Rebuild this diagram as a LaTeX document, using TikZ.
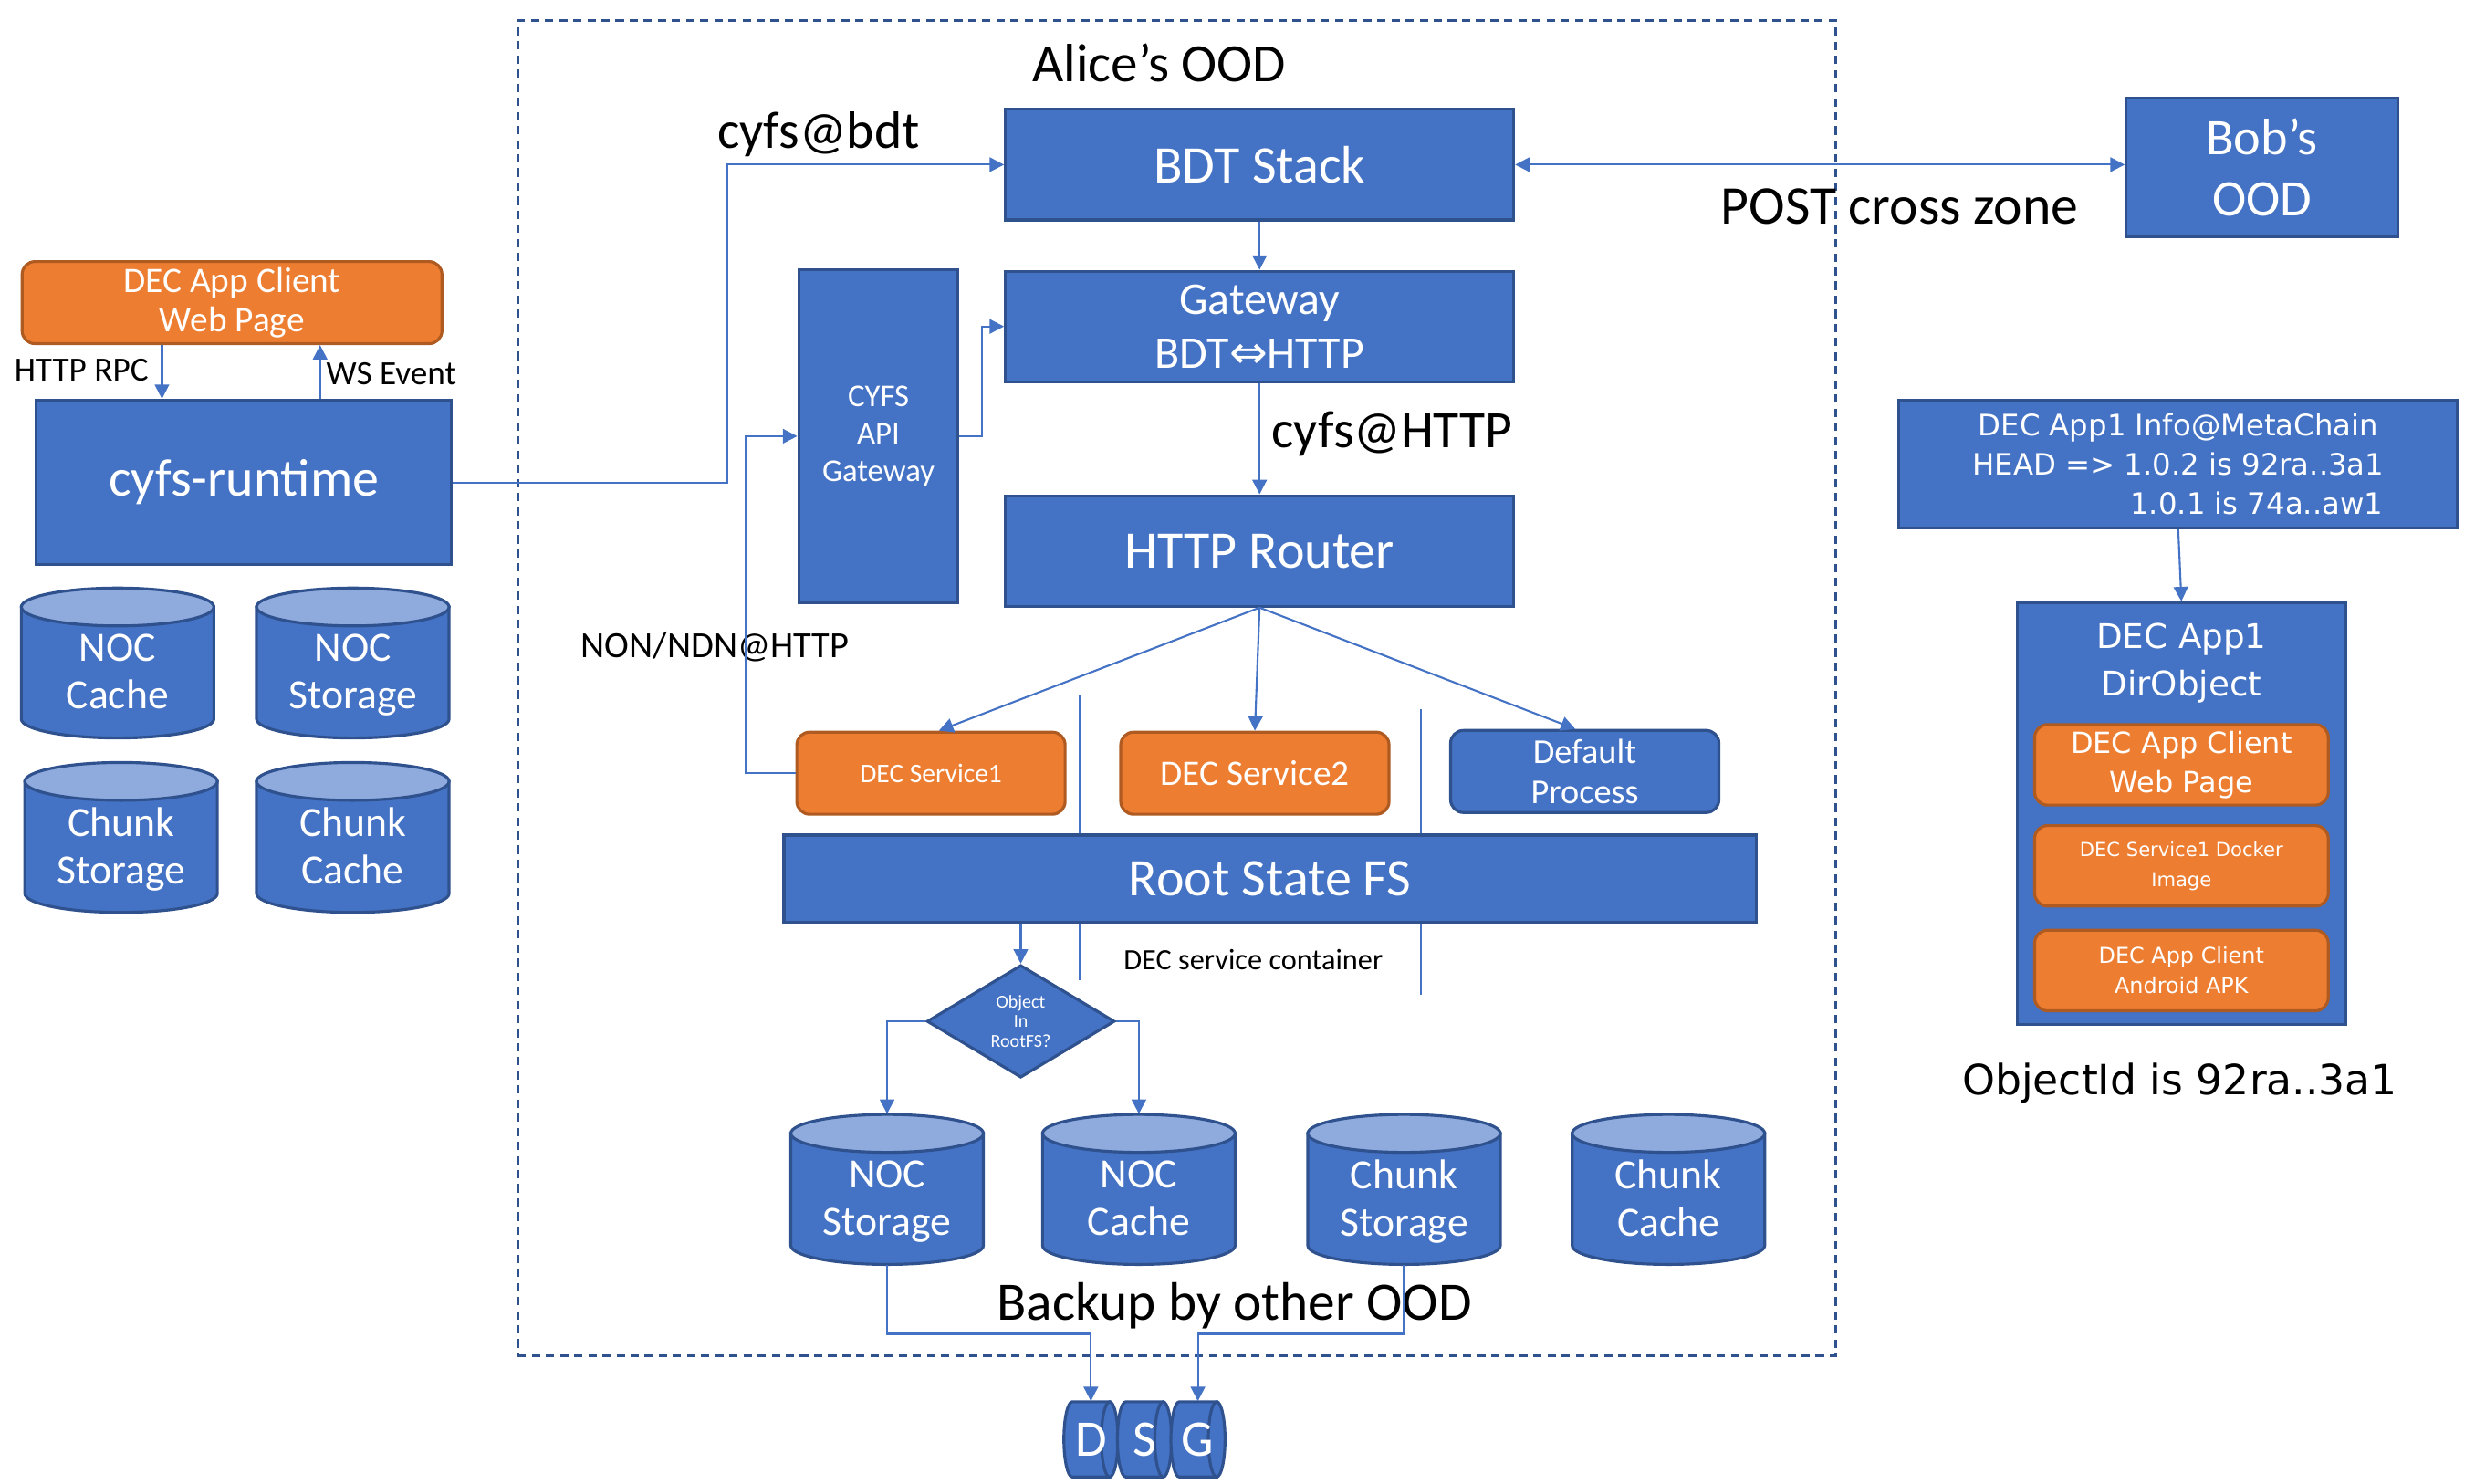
\documentclass[tikz,border=0pt]{standalone}
\usepackage{fontspec}
\setmainfont{Carlito}
\newfontfamily\rfont{DejaVu Sans}
\usetikzlibrary{shapes.geometric,arrows.meta}
\definecolor{bfill}{HTML}{4472C4}
\definecolor{bdark}{HTML}{2F528F}
\definecolor{btop}{HTML}{8FAADC}
\definecolor{ofill}{HTML}{ED7D31}
\definecolor{odark}{HTML}{AE5A21}
\newdimen\px
\px=0.017296cm
\newcommand{\fs}[2]{\fontsize{#1}{#2}\selectfont}
\tikzset{
  box/.style={rectangle,draw=bdark,fill=bfill,text=white,line width=0.9pt,inner sep=0pt,align=center},
  obox/.style={box,draw=odark,fill=ofill,rounded corners=4pt},
  rbox/.style={box,rounded corners=4pt},
  skin/.style={draw=bdark,line width=0.9pt},
  dbframe/.style={rectangle,inner sep=0pt,minimum width=122\px,minimum height=95\px},
  dbtext/.style={text=white,align=center,inner sep=0pt,font=\fs{13}{14.8}},
  dsg/.style={rectangle,inner sep=0pt,text=white,minimum width=34\px,minimum height=47.6\px,font=\fs{16}{18}},
  tip/.tip={Triangle[width=4.5pt,length=4.5pt]},
  link/.style={draw=bfill,line width=0.6pt,-tip},
  lbl/.style={text=black,inner sep=0pt,align=center}
}
\begin{document}
\begin{tikzpicture}[x=0.017296cm,y=-0.017296cm]
\useasboundingbox (0,0) rectangle (1568,940);
\pgfmathsetmacro{\bw}{322}
\pgfmathsetmacro{\bh}{70}
\pgfmathsetmacro{\crx}{61}
\pgfmathsetmacro{\cry}{12}
\pgfmathsetmacro{\cbody}{35.5}
%ood frame
\node[draw=bdark,line width=0.9pt,dash pattern=on 2.6pt off 1.8pt,inner sep=0pt,
  minimum width=835\px,minimum height=846\px] (ood) at (745.5,436) {};
\node[lbl,font=\fs{16.8}{19}] (alice) at (734.5,40) {Alice’s OOD};
%container walls
\draw[bfill,line width=0.6pt] (684,440) -- (684,621);
\draw[bfill,line width=0.6pt] (900,449) -- (900,630);
%stack
\node[box,minimum width=\bw\px,minimum height=\bh\px,font=\fs{16.5}{19}] (bdt) at (798,104.3) {BDT Stack};
\node[box,minimum width=\bw\px,minimum height=\bh\px,font=\fs{14.2}{16.8}] (gw) at (798,206.8) {Gateway\\BDT{\rfont ⇔}HTTP};
\node[box,minimum width=\bw\px,minimum height=\bh\px,font=\fs{16.5}{19}] (router) at (798,349) {HTTP Router};
\node[box,minimum width=101\px,minimum height=211\px,font=\fs{9.9}{11.6}] (api) at (556.5,276.3) {CYFS\\API\\Gateway};
\node[obox,minimum width=170\px,minimum height=52\px,font=\fs{8.4}{10}] (svc1) at (589.8,489.8) {DEC Service1};
\node[obox,minimum width=170\px,minimum height=52\px,font=\fs{11.2}{13}] (svc2) at (795,489.8) {DEC Service2};
\node[rbox,minimum width=170\px,minimum height=52\px,font=\fs{10.9}{12.4}] (defp) at (1004,488.7) {Default\\Process};
\node[box,minimum width=616\px,minimum height=55\px,font=\fs{16.5}{19}] (root) at (804.6,556.5) {Root State FS};
\node[lbl,font=\fs{9.2}{11}] (cont) at (794,607.7) {DEC service container};
\node[box,diamond,minimum width=119\px,minimum height=70\px,font=\fs{5.7}{6.2}] (obj) at (646.7,647) {Object\\In\\RootFS?};
%storage
\foreach \n/\x/\y/\t in {nocs2/562/753.5/{NOC\\Storage},nocc2/721.5/753.5/{NOC\\Cache\vphantom{g}},
  chs2/889.5/753.5/{Chunk\\Storage},chc2/1057/753.5/{Chunk\\Cache\vphantom{g}},
  nocc1/74.5/420/{NOC\\Cache\vphantom{g}},nocs1/223.5/420/{NOC\\Storage},
  chs1/76.7/530.5/{Chunk\\Storage},chc1/223.5/530.5/{Chunk\\Cache\vphantom{g}}}{
  \filldraw[skin,fill=bfill] (\x-\crx,\y-\cbody) -- (\x-\crx,\y+\cbody)
    arc[start angle=180,end angle=0,x radius=\crx,y radius=\cry] -- (\x+\crx,\y-\cbody) -- cycle;
  \filldraw[skin,fill=btop] (\x,\y-\cbody) ellipse[x radius=\crx,y radius=\cry];
  \node[dbframe] (\n) at (\x,\y) {};
  \node[dbtext] (\n-t) at (\x,\y+7.5) {\t};
}
\node[lbl,font=\fs{16.9}{19}] (backup) at (782,827) {Backup by other OOD};
%dsg
\foreach \n/\lx/\t in {d/679.3/D,s/713.2/S,g/747.1/G}{
  \filldraw[skin,fill=bfill] (\lx,888) -- (\lx+23.7,888) -- (\lx+23.7,935.6) -- (\lx,935.6)
    arc[start angle=90,end angle=270,x radius=5.3,y radius=23.8] -- cycle;
  \filldraw[skin,fill=bfill] (\lx+23.7,911.8) ellipse[x radius=5.3,y radius=23.8];
  \node[dsg] (\n) at (\lx+11.8,911.8) {\t};
}
%runtime
\node[obox,minimum width=266\px,minimum height=52\px,font=\fs{11.2}{12.4}] (webl) at (147,191.7) {DEC App Client\\Web Page};
\node[box,minimum width=263\px,minimum height=104\px,font=\fs{16.5}{19}] (runtime) at (154.5,305.6) {cyfs-runtime};
\node[lbl,font=\fs{10.6}{12}] (rpc) at (51.6,234.5) {HTTP RPC};
\node[lbl,font=\fs{10.6}{12}] (ws) at (248,236.5) {WS Event};
%bob and app
\node[box,minimum width=172\px,minimum height=88\px,font=\fs{16}{18.8}] (bob) at (1433,106) {Bob’s\\OOD};
\node[lbl,font=\fs{17}{19}] (post) at (1203.5,131) {POST cross zone};
\node[box,minimum width=354\px,minimum height=81\px,font=\rfont\fs{9.2}{12.2}] (meta) at (1380,294)
  {DEC App1 Info@MetaChain\\HEAD => 1.0.2 is 92ra..3a1\\\hphantom{HEAD => }\,1.0.1 is 74a..aw1};
\node[box,minimum width=208\px,minimum height=267\px] (dir) at (1382,515.3) {};
\node[lbl,text=white,font=\rfont\fs{10.6}{14.8}] (dirt) at (1382,420) {DEC App1\\DirObject};
\node[obox,minimum width=186\px,minimum height=51\px,font=\rfont\fs{9.1}{12.4}] (web) at (1382,484.5) {DEC App Client\\Web Page};
\node[obox,minimum width=186\px,minimum height=51\px,font=\rfont\fs{6}{9.4}] (img) at (1382,548.5) {DEC Service1 Docker\\Image};
\node[obox,minimum width=186\px,minimum height=51\px,font=\rfont\fs{6.8}{9.4}] (apk) at (1382,614.8) {DEC App Client\\Android APK};
\node[lbl,font=\rfont\fs{13}{15}] (objid) at (1381,686) {ObjectId is 92ra..3a1};
%links
\node[lbl,font=\fs{16.4}{19}] (cbdt) at (518.6,85) {cyfs@bdt};
\node[lbl,font=\fs{16.4}{19}] (chttp) at (882,275) {cyfs@HTTP};
\node[lbl,font=\fs{11.5}{13}] (non) at (453,410) {NON/NDN@HTTP};
\coordinate (rpcx) at (102.6,0);
\coordinate (wsx) at (202.8,0);
\coordinate (jbdt) at (461,305.6);
\coordinate (japi) at (622,276.3);
\coordinate (jsvc) at (472.4,489.8);
\coordinate (jd) at (562,845);
\coordinate (jg) at (889.5,845);
\draw[link] (webl.south -| rpcx) -- (runtime.north -| rpcx);
\draw[link] (runtime.north -| wsx) -- (webl.south -| wsx);
\draw[link] (runtime.east) -- (jbdt) |- (bdt.west);
\draw[link] (api.east) -- (japi) |- (gw.west);
\draw[link] (svc1.west) -- (jsvc) |- (api.west);
\draw[link] (bdt.south) -- (gw.north);
\draw[link] (gw.south) -- (router.north);
\draw[link] (router.south) -- ([xshift=5\px]svc1.north);
\draw[link] (router.south) -- (svc2.north);
\draw[link] (router.south) -- ([xshift=-6\px]defp.north);
\draw[link,tip-tip] (bdt.east) -- (bob.west |- bdt.east);
\draw[link] (obj.north |- root.south) -- (obj.north);
\draw[link] (obj.west) -| (nocs2.north);
\draw[link] (obj.east) -| (nocc2.north);
\draw[link] (nocs2.south) -- (jd) -| (d.north);
\draw[link] (chs2.south) -- (jg) -| (g.north);
\draw[link] (meta.south) -- (dir.north);
\end{tikzpicture}
\end{document}
